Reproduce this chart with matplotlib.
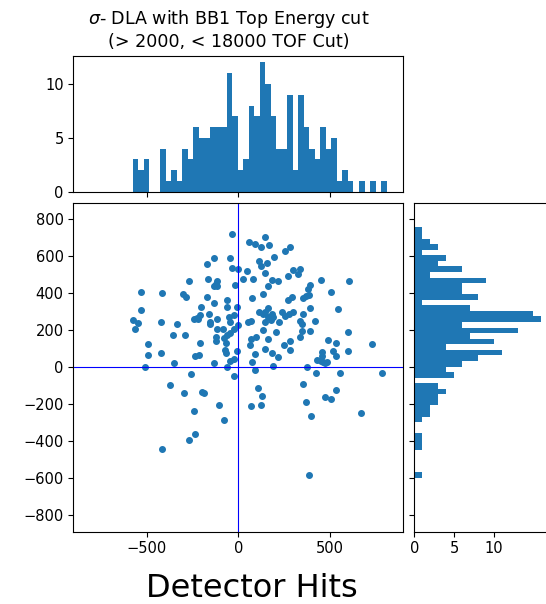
import numpy as np
import matplotlib
matplotlib.use("Agg")
import matplotlib.pyplot as plt

# Scatter points (detector hits)
x_hits = [-36, 148, 61, 92, 166, 126, 281, 255, -134, -43, -172, 115, 154, 126, 195,
          -37, 1, 50, 146, 299, 335, 323, 270, -165, -115, -123, -135, -114, -268, 28,
          79, 186, 219, 164, 452, 604, -17, 390, 381, -532, -414, -301, -286, -172, 74,
          135, 292, 270, 370, 386, 355, 506, -61, -130, -59, -6, -201, -532, 544, 390,
          164, 115, 135, 148, 183, 161, 190, 239, 255, 274, 297, 354, -159, -210, -223,
          -239, -221, -117, -50, -21, -576, -548, -561, -421, -332, -157, -152, -43, 55, 68,
          146, 179, 223, 337, 350, 421, 1, -117, -81, -25, -46, -59, 137, 205, 350,
          390, 599, -356, -288, -123, -79, 70, 95, 339, -121, -208, 164, 488, 535, -494,
          63, 250, 732, 281, -66, -74, -66, -6, 283, 148, 183, 219, 457, 517, 599,
          -494, -421, -234, -214, 90, 457, 535, -43, -21, -130, -348, 74, 190, 430, 452,
          474, 486, 463, -508, -61, 374, 92, -257, -26, 426, 555, 786, -374, 354, 110,
          -294, -196, -188, 535, 132, 475, 506, 372, -105, 72, 123, -239, 670, 397, -76,
          -234, -268, -414, 383]
y_hits = [723, 705, 676, 669, 662, 649, 651, 631, 590, 590, 559, 577, 566, 546, 595,
          539, 534, 523, 510, 528, 534, 505, 492, 479, 469, 452, 441, 441, 469, 479,
          479, 474, 467, 438, 474, 467, 443, 443, 423, 407, 400, 394, 382, 382, 376,
          394, 382, 364, 384, 391, 376, 407, 366, 346, 326, 328, 328, 310, 315, 322,
          322, 297, 286, 301, 286, 272, 272, 297, 279, 288, 297, 286, 286, 284, 268,
          263, 263, 263, 270, 284, 255, 237, 207, 243, 236, 243, 232, 245, 246, 252,
          245, 257, 243, 248, 236, 250, 227, 207, 207, 207, 185, 176, 201, 189, 196,
          196, 189, 176, 176, 165, 158, 154, 165, 165, 140, 133, 152, 145, 133, 127,
          122, 122, 127, 140, 133, 93, 75, 86, 93, 98, 75, 55, 80, 86, 86,
          66, 78, 62, 68, 73, 59, 60, 33, 44, 24, 24, 30, 6, 39, 31,
          24, 26, 26, 1, 1, 1, -14, -35, -48, -30, -30, -30, -97, -91, -115,
          -140, -133, -140, -122, -158, -163, -171, -187, -207, -212, -207, -236, -248, -266, -285,
          -364, -393, -443, -582]

# Top histogram (x projection): 46 equal bins between these limits
x_bin_min, x_bin_max = -576, 809
x_counts = [3, 2, 3, 0, 0, 4, 1, 2, 1, 4, 3, 6, 5, 5, 6, 6, 6, 11, 7, 2, 3, 8, 7,
            12, 10, 7, 4, 4, 9, 2, 9, 6, 4, 3, 6, 4, 5, 1, 2, 1, 0, 1, 0, 1, 0, 1]

# Right histogram (y projection): 45 equal bins, listed from bottom to top
y_bin_min, y_bin_max = -598, 756
y_counts = [1, 0, 0, 0, 0, 1, 1, 1, 0, 0, 1, 2, 2, 3, 3, 4, 3, 0, 5, 4, 6, 8, 11,
            4, 10, 7, 13, 6, 16, 15, 7, 1, 8, 6, 6, 9, 2, 6, 3, 4, 1, 3, 2, 1, 1]

title_text = "$\\sigma$- DLA with BB1 Top Energy cut\n(> 2000, < 18000 TOF Cut)"
xlabel_text = "Detector Hits"

W, H = 546, 604
fig = plt.figure(figsize=(W / 100, H / 100), dpi=100)

def rect(x0, y0, x1, y1):
    return [x0 / W, 1 - y1 / H, (x1 - x0) / W, (y1 - y0) / H]

ax = fig.add_axes(rect(73.3, 202.7, 403.3, 531.7))
ax_top = fig.add_axes(rect(73.3, 56, 403.3, 191.7), sharex=ax)
ax_right = fig.add_axes(rect(414.3, 202.7, 547.8, 531.7), sharey=ax)

ax.scatter(x_hits, y_hits, s=16, color="#1f77b4", zorder=1)
ax.axhline(0, color="#0000ff", lw=0.8, zorder=2)
ax.axvline(0, color="#0000ff", lw=0.8, zorder=2)
ax.set_xlim(-900, 900)
ax.set_ylim(-890, 890)
ax.set_xticks([-500, 0, 500])
ax.set_yticks([-800, -600, -400, -200, 0, 200, 400, 600, 800])

x_edges = np.linspace(x_bin_min, x_bin_max, len(x_counts) + 1)
y_edges = np.linspace(y_bin_min, y_bin_max, len(y_counts) + 1)
ax_top.hist(x_edges[:-1], bins=x_edges, weights=x_counts, color="#1f77b4")
ax_right.hist(y_edges[:-1], bins=y_edges, weights=y_counts, color="#1f77b4",
              orientation="horizontal")

ax_top.set_ylim(0, 12.6)
ax_top.set_yticks([0, 5, 10])
ax_top.tick_params(labelbottom=False)
ax_right.set_xlim(0, 16.8)
ax_right.set_xticks([0, 5, 10])
ax_right.tick_params(labelleft=False)

for a in (ax, ax_top, ax_right):
    a.tick_params(labelsize=10.5)

fig.text(228.5 / W, 1 - 8 / H, title_text, ha="center", va="top", fontsize=12.6,
         linespacing=1.2)
fig.text(251.7 / W, 1 - 596.7 / H, xlabel_text, ha="center", va="baseline",
         fontsize=23)

fig.savefig("out.png", dpi=100)
